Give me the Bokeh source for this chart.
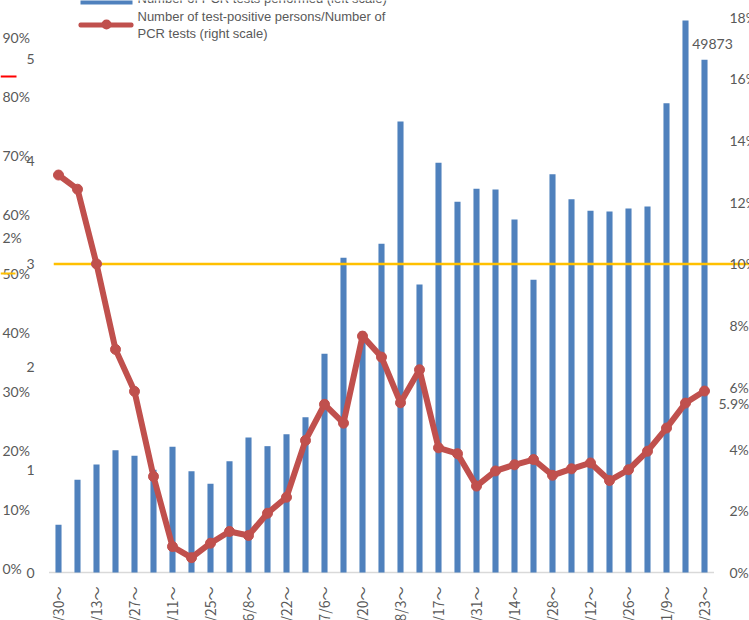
import math
from bokeh.plotting import figure
from bokeh.models import Range1d, ColumnDataSource, LabelSet, Label, BoxAnnotation
from bokeh.embed import file_html
from bokeh.resources import INLINE
from bokeh.core.properties import value

# ---------------- data ----------------
weeks = ["3/30～", "4/6～", "4/13～", "4/20～", "4/27～", "5/4～", "5/11～", "5/18～", "5/25～",
         "6/1～", "6/8～", "6/15～", "6/22～", "6/29～", "7/6～", "7/13～", "7/20～", "7/27～",
         "8/3～", "8/10～", "8/17～", "8/24～", "8/31～", "9/7～", "9/14～", "9/21～", "9/28～",
         "10/5～", "10/12～", "10/19～", "10/26～", "11/2～", "11/9～", "11/16～", "11/23～"]

pcr_tests = [4640, 9020, 10510, 11900, 11350, 10000, 12230, 9850, 8630,
             10830, 13130, 12290, 13450, 15110, 21270, 30610, 23440, 31970,
             43870, 28020, 39850, 36060, 37320, 37250, 34340, 28470, 38750,
             36310, 35180, 35120, 35410, 35600, 45650, 53700, 49873]

positive_rate = [12.88, 12.42, 10.0, 7.23, 5.87, 3.11, 0.84, 0.48, 0.95,
                 1.33, 1.20, 1.92, 2.44, 4.28, 5.45, 4.84, 7.66, 6.98,
                 5.50, 6.57, 4.04, 3.85, 2.80, 3.29, 3.49, 3.66, 3.15,
                 3.36, 3.55, 2.98, 3.33, 3.93, 4.68, 5.49, 5.88]

left_tick_labels = [0, 1, 2, 3, 4, 5]          # ten-thousand tests
right_tick_labels = [0, 2, 4, 6, 8, 10, 12, 14, 16, 18]   # percent
stray_pct_labels = [0, 10, 20, 30, 40, 50, 60, 70, 80, 90]
threshold = [10]

legend_bar_text = "Number of PCR tests performed (left scale)"
legend_line_text1 = "Number of test-positive persons/Number of"
legend_line_text2 = "PCR tests (right scale)"
last_tests_text = "49873"
last_rate_text = "5.9%"

# ---------------- styles ----------------
BLUE = "#4F81BD"
RED = "#C0504D"
YELLOW = "#FFC000"
GREY = "#595959"
TICK_FONT = "Lato"
TICK_SIZE = "14px"
CAT_FONT = "'Liberation Sans Narrow', 'Noto Sans CJK JP', sans-serif"

idx = list(range(len(weeks)))

p = figure(width=749, height=620, output_backend="svg", toolbar_location=None,
           x_range=Range1d(-3.0526, 36.3684), y_range=Range1d(-4669, 55642),
           min_border=0, min_border_left=0, min_border_right=0,
           min_border_top=0, min_border_bottom=0)
p.xaxis.visible = False
p.yaxis.visible = False
p.xgrid.visible = False
p.ygrid.visible = False
p.outline_line_color = None
p.background_fill_color = "white"
p.border_fill_color = "white"

p.extra_y_ranges = {"right": Range1d(-1.5554, 18.5353), "pct": Range1d(-8.814, 96.271)}

src = ColumnDataSource(dict(i=idx, week=weeks, tests=pcr_tests, rate=positive_rate))

# baseline of category axis
p.segment(x0=[-0.5], x1=[len(weeks) - 0.5], y0=[0], y1=[0],
          line_color="#D9D9D9", line_width=1.5)

# bars
p.vbar(x="i", top="tests", width=0.32, source=src, fill_color=BLUE, line_color=None)

# threshold line (10% on right scale)
p.segment(x0=[-0.25], x1=[40], y0=threshold, y1=threshold, y_range_name="right",
          line_color=YELLOW, line_width=2.5)

# positivity line
p.line(x="i", y="rate", source=src, y_range_name="right", line_color=RED,
       line_width=6, line_join="round")
p.scatter(x="i", y="rate", source=src, y_range_name="right", size=10,
          fill_color=RED, line_color=RED)


def labels(xs, ys, texts, font=TICK_FONT, **kw):
    s = ColumnDataSource(dict(x=xs, y=ys, t=texts))
    base = dict(text_font=value(font), text_font_size=TICK_SIZE, text_color=GREY,
                text_baseline="middle")
    base.update(kw)
    p.add_layout(LabelSet(x="x", y="y", text="t", source=s, **base))


# left scale (ten thousands)
labels([34] * len(left_tick_labels), [t * 10000 for t in left_tick_labels],
       [str(t) for t in left_tick_labels], x_units="canvas", text_align="right")
# right scale (percent)
labels([729] * len(right_tick_labels), right_tick_labels,
       [f"{t}%" for t in right_tick_labels], x_units="canvas", text_align="left",
       y_range_name="right")
# stray percent scale on far left
labels([2] * len(stray_pct_labels), stray_pct_labels,
       [f"{t}%" for t in stray_pct_labels], x_units="canvas", text_align="left",
       y_range_name="pct")
# category labels every second week, rotated
labels(idx[::2], [0] * len(idx[::2]), weeks[::2], font=CAT_FONT, angle=math.pi / 2,
       text_align="right", y_offset=-14)
# data labels
labels([idx[-1]], [pcr_tests[-1]], [last_tests_text], x_offset=8, y_offset=16,
       text_align="center")
labels([idx[-1]], [positive_rate[-1]], [last_rate_text], x_offset=14, y_offset=-12,
       text_align="left", y_range_name="right")

p.add_layout(Label(x=2, y=237, x_units="canvas", y_units="canvas", text="2%",
                   text_align="left", text_baseline="middle", text_font=TICK_FONT,
                   text_font_size=TICK_SIZE, text_color=GREY))


def cbox(l, r, t, b, color, radius=0):
    return BoxAnnotation(left=l, right=r, top=t, bottom=b, left_units="canvas",
                         right_units="canvas", top_units="canvas", bottom_units="canvas",
                         fill_color=color, fill_alpha=1, line_alpha=0, border_radius=radius)


p.add_layout(cbox(0, 16, 75, 77, "#FF0000"))
p.add_layout(cbox(0, 15, 272, 274, YELLOW))

# legend (drawn by hand)
p.add_layout(cbox(80, 132, -4, 4, BLUE))
p.add_layout(cbox(78, 133, 22, 27, RED, 2))
p.add_layout(cbox(101, 111, 19, 29, RED, 5))
for txt, yy in ((legend_bar_text, -2.5), (legend_line_text1, 16), (legend_line_text2, 32.5)):
    p.add_layout(Label(x=137, y=yy, x_units="canvas", y_units="canvas", text=txt,
                       text_align="left", text_baseline="middle",
                       text_font="Liberation Sans", text_font_size="13px",
                       text_color=GREY))

open("out.html", "w").write(file_html(p, INLINE))
